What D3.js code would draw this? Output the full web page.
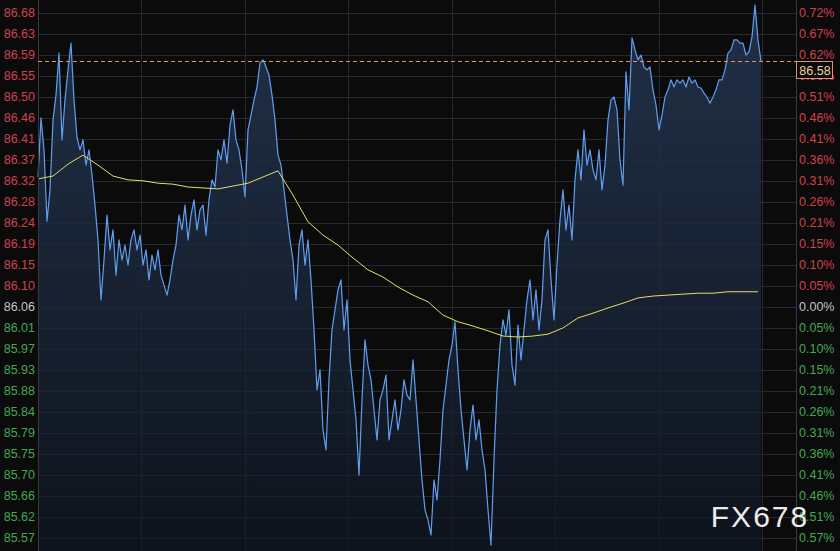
<!DOCTYPE html>
<html><head><meta charset="utf-8">
<script src="https://cdn.jsdelivr.net/npm/d3@7"></script>
<style>html,body{margin:0;padding:0;background:#0b0b0b;overflow:hidden}</style>
</head><body><svg id="chart" width="840" height="551"></svg>
<script>
// ---------- data ----------
const prevClose = 86.06;
const tickStep = 0.0441;
const tickOffsets = [14,13,12,11,10,9,8,7,6,5,4,3,2,1,0,-1,-2,-3,-4,-5,-6,-7,-8,-9,-10,-11];
const leftTickLabels = ["86.68","86.63","86.59","86.55","86.50","86.46","86.41","86.37","86.32","86.28","86.24","86.19","86.15","86.10","86.06","86.01","85.97","85.93","85.88","85.84","85.79","85.75","85.70","85.66","85.62","85.57"];
const rightTickLabels = ["0.72%","0.67%","0.62%","0.56%","0.51%","0.46%","0.41%","0.36%","0.31%","0.26%","0.21%","0.15%","0.10%","0.05%","0.00%","0.05%","0.10%","0.15%","0.21%","0.26%","0.31%","0.36%","0.41%","0.46%","0.51%","0.57%"];
const lastPrice = 86.576;
const lastPriceLabel = "86.58";
const sessionSlots = 252.67;
const gridEverySlots = 34.5;
const avgEvery = 5;
const watermark = "FX678";

const priceValues = [
86.333,86.457,86.390,86.240,86.306,86.453,86.505,86.593,86.411,86.495,
86.558,86.614,86.495,86.417,86.390,86.411,86.358,86.390,86.337,86.274,
86.201,86.075,86.159,86.253,86.180,86.222,86.127,86.201,86.159,86.190,
86.148,86.201,86.222,86.180,86.211,86.148,86.180,86.117,86.169,86.138,
86.180,86.127,86.106,86.085,86.117,86.159,86.190,86.253,86.222,86.274,
86.201,86.253,86.285,86.222,86.264,86.274,86.211,86.285,86.327,86.312,
86.390,86.369,86.411,86.362,86.442,86.474,86.411,86.390,86.348,86.291,
86.432,86.463,86.495,86.522,86.572,86.579,86.564,86.547,86.505,86.453,
86.379,86.358,86.306,86.253,86.201,86.159,86.075,86.190,86.222,86.148,
86.201,86.117,86.012,85.886,85.928,85.802,85.760,85.907,86.012,86.054,
86.096,86.117,86.012,86.075,85.949,85.886,85.823,85.707,85.865,85.991,
85.938,85.907,85.844,85.781,85.865,85.886,85.917,85.781,85.823,85.865,
85.802,85.844,85.907,85.875,85.865,85.949,85.865,85.781,85.697,85.634,
85.613,85.581,85.697,85.655,85.739,85.844,85.896,85.949,85.980,86.029,
85.928,85.844,85.781,85.718,85.802,85.854,85.781,85.823,85.760,85.718,
85.634,85.560,85.739,85.886,85.980,86.033,86.001,86.054,85.938,85.896,
86.022,85.949,86.012,86.075,86.117,86.033,86.096,86.012,86.075,86.201,
86.222,86.117,86.033,86.148,86.243,86.306,86.222,86.274,86.201,86.327,
86.390,86.327,86.432,86.358,86.390,86.348,86.327,86.390,86.306,86.358,
86.453,86.495,86.501,86.474,86.369,86.316,86.554,86.474,86.625,86.600,
86.579,86.589,86.564,86.558,86.564,86.516,86.484,86.432,86.463,86.501,
86.516,86.537,86.522,86.537,86.530,86.537,86.522,86.543,86.530,86.537,
86.522,86.520,86.509,86.501,86.488,86.501,86.516,86.537,86.537,86.558,
86.593,86.600,86.621,86.621,86.614,86.614,86.589,86.596,86.627,86.694,
86.621,86.576
];

const avgValues = [
86.329,86.335,86.360,86.379,86.358,86.335,86.327,86.325,86.320,86.318,
86.312,86.310,86.308,86.314,86.320,86.333,86.346,86.295,86.239,86.211,
86.190,86.163,86.138,86.123,86.102,86.085,86.071,86.043,86.029,86.020,
86.010,85.999,85.997,85.999,86.003,86.016,86.037,86.047,86.058,86.068,
86.079,86.083,86.085,86.087,86.089,86.089,86.092,86.092,86.092
];

// ---------- layout ----------
const W = 840, H = 551;
const plotL = 38, plotR = 796;
const svg = d3.select("#chart");

const y = d3.scaleLinear()
  .domain([prevClose - 11 * tickStep, prevClose + 14 * tickStep])
  .range([538, 13]);
const x = d3.scaleLinear().domain([0, sessionSlots]).range([plotL, plotR]);

svg.append("rect").attr("width", W).attr("height", H).attr("fill", "#0b0b0b");

const defs = svg.append("defs");
const grad = defs.append("linearGradient").attr("id", "areaGrad")
  .attr("gradientUnits", "userSpaceOnUse").attr("x1", 0).attr("y1", 0).attr("x2", 0).attr("y2", H);
grad.append("stop").attr("offset", "0%").attr("stop-color", "#22324c");
grad.append("stop").attr("offset", "100%").attr("stop-color", "#0e141d");

// gridlines
const tickVals = tickOffsets.map(k => prevClose + k * tickStep);
svg.append("g").selectAll("line").data(tickVals).join("line")
  .attr("x1", plotL).attr("x2", plotR)
  .attr("y1", d => Math.round(y(d)) + 0.5).attr("y2", d => Math.round(y(d)) + 0.5)
  .attr("stroke", "#242628").attr("stroke-width", 1);

const vGrid = d3.range(gridEverySlots, sessionSlots, gridEverySlots);
svg.append("g").selectAll("line").data(vGrid).join("line")
  .attr("x1", d => Math.round(x(d)) + 0.5).attr("x2", d => Math.round(x(d)) + 0.5)
  .attr("y1", 0).attr("y2", H)
  .attr("stroke", "#232528").attr("stroke-width", 1);

// area + line
const area = d3.area().x((d, i) => x(i)).y0(H).y1(d => y(d));
svg.append("path").datum(priceValues).attr("d", area).attr("fill", "url(#areaGrad)").attr("opacity", 0.95);

// gridlines faintly over the area
svg.append("g").selectAll("line").data(tickVals).join("line")
  .attr("x1", plotL).attr("x2", plotR)
  .attr("y1", d => Math.round(y(d)) + 0.5).attr("y2", d => Math.round(y(d)) + 0.5)
  .attr("stroke", "#2a3240").attr("stroke-opacity", 0.35);
svg.append("g").selectAll("line").data(vGrid).join("line")
  .attr("x1", d => Math.round(x(d)) + 0.5).attr("x2", d => Math.round(x(d)) + 0.5)
  .attr("y1", 0).attr("y2", H)
  .attr("stroke", "#2a3240").attr("stroke-opacity", 0.3);

const line = d3.line().x((d, i) => x(i)).y(d => y(d));
svg.append("path").datum(priceValues).attr("d", line)
  .attr("fill", "none").attr("stroke", "#5f9ef0").attr("stroke-width", 1.2).attr("stroke-linejoin", "round");

const avgLine = d3.line().x((d, i) => x(i * avgEvery)).y(d => y(d));
svg.append("path").datum(avgValues).attr("d", avgLine)
  .attr("fill", "none").attr("stroke", "#e4e060").attr("stroke-width", 1);

// axis lines
svg.append("line").attr("x1", plotL + 0.5).attr("x2", plotL + 0.5).attr("y1", 0).attr("y2", H).attr("stroke", "#3a3a3a");
svg.append("line").attr("x1", plotR + 0.5).attr("x2", plotR + 0.5).attr("y1", 0).attr("y2", H).attr("stroke", "#3a3a3a");

// last price dashed line
const ly = Math.round(y(lastPrice)) + 0.5;
svg.append("line").attr("x1", plotL).attr("x2", plotR).attr("y1", ly).attr("y2", ly)
  .attr("stroke", "#f08a5a").attr("stroke-dasharray", "4,3").attr("stroke-width", 1);

const colorFor = k => k > 0 ? "#d2414e" : (k < 0 ? "#43a851" : "#c4c4c4");
const font = "'Liberation Sans', Arial, sans-serif";

// left labels
svg.append("g").selectAll("text").data(tickOffsets).join("text")
  .attr("x", 35).attr("y", d => y(prevClose + d * tickStep))
  .attr("text-anchor", "end").attr("dominant-baseline", "central")
  .attr("font-family", font).attr("font-size", 12.5)
  .attr("fill", colorFor).text((d, i) => leftTickLabels[i]);

// right labels
svg.append("g").selectAll("text").data(tickOffsets).join("text")
  .attr("x", 799).attr("y", d => y(prevClose + d * tickStep))
  .attr("text-anchor", "start").attr("dominant-baseline", "central")
  .attr("font-family", font).attr("font-size", 12.5)
  .attr("fill", colorFor).text((d, i) => rightTickLabels[i]);

// last price box
svg.append("rect").attr("x", plotR + 0.5).attr("y", ly).attr("width", 36).attr("height", 17)
  .attr("fill", "#0b0b0b").attr("stroke", "#e0907c").attr("stroke-width", 1);
svg.append("text").attr("x", plotR + 19).attr("y", ly + 9)
  .attr("text-anchor", "middle").attr("dominant-baseline", "central")
  .attr("font-family", font).attr("font-size", 12.5).attr("fill", "#f2cfa0").text(lastPriceLabel);

// watermark
svg.append("text").attr("x", 760).attr("y", 527).attr("text-anchor", "middle")
  .attr("font-family", font).attr("font-size", 30).attr("letter-spacing", 2)
  .attr("fill", "#ececec").text(watermark);
</script></body></html>
